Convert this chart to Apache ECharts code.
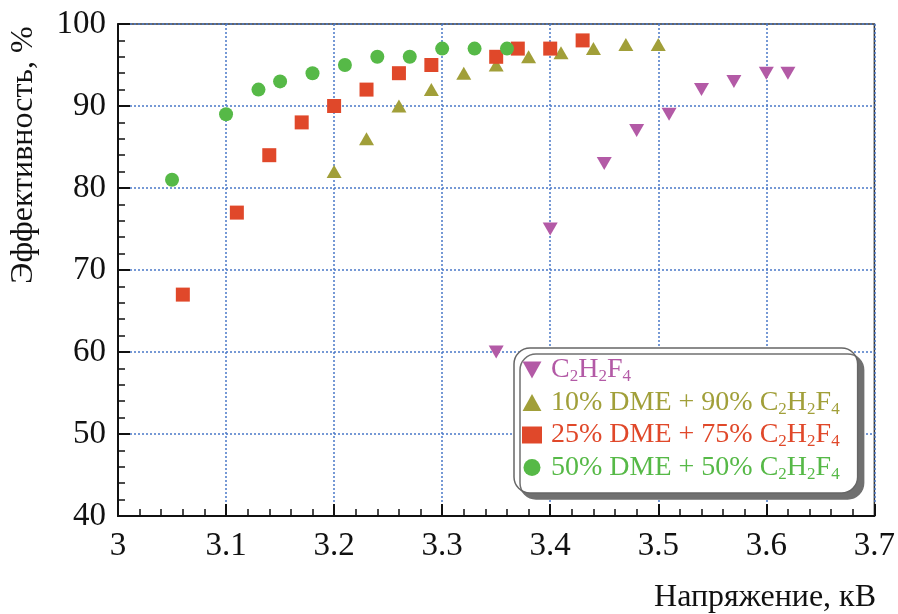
<!DOCTYPE html>
<html>
<head>
<meta charset="utf-8">
<script src="https://cdn.jsdelivr.net/npm/echarts@6/dist/echarts.min.js"></script>
<style>
html,body{margin:0;padding:0;background:#fff}
#chart{width:898px;height:614px}
</style>
</head>
<body>
<div id="chart"></div>
<script>
// data: [voltage kV, efficiency %]
const pureC2H2F4 = [[3.35,60],[3.40,75],[3.45,83],[3.48,87],[3.51,89],[3.54,92],[3.57,93],[3.60,94],[3.62,94]];
const dme10 = [[3.20,82],[3.23,86],[3.26,90],[3.29,92],[3.32,94],[3.35,95],[3.38,96],[3.41,96.5],[3.44,97],[3.47,97.5],[3.50,97.5]];
const dme25 = [[3.06,67],[3.11,77],[3.14,84],[3.17,88],[3.20,90],[3.23,92],[3.26,94],[3.29,95],[3.35,96],[3.37,97],[3.40,97],[3.43,98]];
const dme50 = [[3.05,81],[3.10,89],[3.13,92],[3.15,93],[3.18,94],[3.21,95],[3.24,96],[3.27,96],[3.30,97],[3.33,97],[3.36,97]];
const seriesNames = ['C2H2F4','10% DME + 90% C2H2F4','25% DME + 75% C2H2F4','50% DME + 50% C2H2F4'];
const colors = ['#B35AA6','#A19F39','#E0482A','#56B947'];
const xTicks = [3, 3.7, 0.1];
const yTicks = [40, 100, 10];

const font = 'Liberation Serif';
const downTri = 'path://M0,0 L10,0 L5,9 Z';
const upTri = 'path://M5,0 L10,9 L0,9 Z';
var chart = echarts.init(document.getElementById('chart'));

// "C2H2F4" -> rich text with subscripts
function fmtName(name){
 let parts = name.split('C2H2F4');
 let s = parts[0] ? '{a|' + parts[0] + '}' : '';
 return s + '{a|C}{s|2}{a|H}{s|2}{a|F}{s|4}';
}

var option = {
 animation:false,
 backgroundColor:'#fff',
 grid:{left:118,right:22,top:24,bottom:98,show:true,borderColor:'#333',borderWidth:1.5},
 xAxis:{
 type:'value',min:xTicks[0],max:xTicks[1],interval:xTicks[2],
 axisLine:{lineStyle:{color:'#111',width:2}},
 axisTick:{inside:true,length:12,lineStyle:{color:'#111',width:2}},
 minorTick:{show:true,splitNumber:5,length:7,lineStyle:{color:'#111',width:1.5}},
 splitLine:{show:true,lineStyle:{color:'#4A78C8',width:1.5,type:[2,2]}},
 axisLabel:{color:'#111',fontFamily:font,fontSize:33,margin:14}
 },
 yAxis:{
 type:'value',min:yTicks[0],max:yTicks[1],interval:yTicks[2],
 axisLine:{show:true,lineStyle:{color:'#111',width:2}},
 axisTick:{show:true,inside:true,length:12,lineStyle:{color:'#111',width:2}},
 minorTick:{show:true,splitNumber:5,length:7,lineStyle:{color:'#111',width:1.5}},
 splitLine:{show:true,lineStyle:{color:'#4A78C8',width:1.5,type:[2,2]}},
 axisLabel:{color:'#111',fontFamily:font,fontSize:33,margin:12}
 },
 legend:{
 orient:'vertical',left:514,top:348,
 backgroundColor:'#fff',borderColor:'#666',borderWidth:1.5,borderRadius:16,
 shadowColor:'#707070',shadowOffsetX:6,shadowOffsetY:6,shadowBlur:0,
 padding:[8,18,10,8],itemGap:3,itemWidth:20,itemHeight:17,
 formatter:fmtName,
 textStyle:{fontFamily:font,padding:[0,0,0,4],rich:{
 a:{fontFamily:font,fontSize:28,lineHeight:31},
 s:{fontFamily:font,fontSize:17,lineHeight:17,verticalAlign:'bottom'}
 }},
 data:seriesNames.map((n,i)=>({name:n,textStyle:{color:colors[i]}}))
 },
 graphic:[
 {type:'text',x:24,y:155,rotation:Math.PI/2,style:{text:'Эффективность, %',font:'32px "Liberation Serif"',fill:'#111',align:'center',verticalAlign:'middle'}},
 {type:'text',x:876,y:598,style:{text:'Напряжение, кВ',font:'32px "Liberation Serif"',fill:'#111',align:'right',verticalAlign:'middle'}}
 ],
 series:[
 {name:seriesNames[0],type:'scatter',data:pureC2H2F4,symbol:downTri,symbolSize:[15,13],itemStyle:{color:colors[0],opacity:1}},
 {name:seriesNames[1],type:'scatter',data:dme10,symbol:upTri,symbolSize:[15,13],itemStyle:{color:colors[1],opacity:1}},
 {name:seriesNames[2],type:'scatter',data:dme25,symbol:'rect',symbolSize:14,itemStyle:{color:colors[2],opacity:1}},
 {name:seriesNames[3],type:'scatter',data:dme50,symbol:'circle',symbolSize:14,itemStyle:{color:colors[3],opacity:1}}
 ]
};
chart.setOption(option);
</script>
</body>
</html>
